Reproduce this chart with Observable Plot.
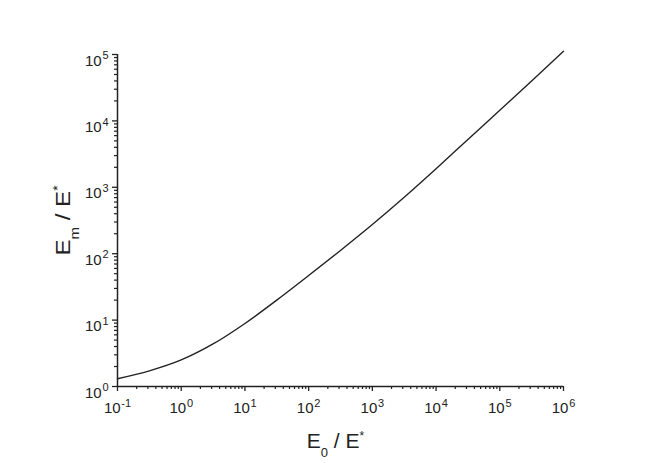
<!DOCTYPE html>
<html><head><meta charset="utf-8">
<script src="https://cdn.jsdelivr.net/npm/d3@7"></script>
<script src="https://cdn.jsdelivr.net/npm/@observablehq/plot@0.6"></script>
<style>
html,body{margin:0;padding:0;background:#fff}
svg{display:block}
</style>
</head><body><div id="chart"></div>
<script>
// Curve values (E0/E* vs Em/E*)
const E0 = [0.1, 0.316, 1, 3.16, 10, 31.6, 100, 316, 1000, 3160, 10000, 31600, 100000, 316000, 1000000];
const Em = [1.31, 1.72, 2.51, 4.37, 8.9, 20, 47, 112, 275, 708, 1905, 5250, 14450, 39800, 112200];

const xMajor = [0.1, 1, 10, 100, 1e3, 1e4, 1e5, 1e6];
const xTickLabels = ["10^-1", "10^0", "10^1", "10^2", "10^3", "10^4", "10^5", "10^6"];
const yMajor = [1, 10, 100, 1e3, 1e4, 1e5];
const yTickLabels = ["10^0", "10^1", "10^2", "10^3", "10^4", "10^5"];
const xTitle = "E_0 / E^*";
const yTitle = "E_m / E^*";

function minorTicks(majors) {
  const out = [];
  for (let i = 0; i < majors.length - 1; i++)
    for (let k = 2; k <= 9; k++) out.push(majors[i] * k);
  return out;
}
const xMinor = minorTicks(xMajor);
const yMinor = minorTicks(yMajor);
const xLab = new Map(xMajor.map((v, i) => [v, xTickLabels[i]]));
const yLab = new Map(yMajor.map((v, i) => [v, yTickLabels[i]]));

const data = E0.map((x, i) => ({E0: x, Em: Em[i]}));
const ink = "#222";

const chart = Plot.plot({
  width: 654, height: 463,
  marginLeft: 117, marginRight: 91, marginTop: 54, marginBottom: 77,
  x: {type: "log", domain: [0.1, 1e6]},
  y: {type: "log", domain: [1, 1e5]},
  style: {fontFamily: "'Liberation Sans', Arial, Helvetica, sans-serif", fontSize: "15px", color: ink, background: "#fff"},
  marks: [
    Plot.axisX(xMinor, {tickSize: 3, tickFormat: () => "", label: null, strokeWidth: 1.2}),
    Plot.axisX(xMajor, {tickSize: 5, tickPadding: 11, tickFormat: d => xLab.get(d), label: null, strokeWidth: 1.3, fontSize: 15}),
    Plot.axisY(yMinor, {tickSize: 3, tickFormat: () => "", label: null, strokeWidth: 1.2}),
    Plot.axisY(yMajor, {tickSize: 5, tickPadding: 4, tickFormat: d => yLab.get(d), label: null, strokeWidth: 1.3, fontSize: 15}),
    Plot.ruleY([1], {stroke: ink, strokeWidth: 1.5}),
    Plot.ruleX([0.1], {stroke: ink, strokeWidth: 1.5}),
    Plot.line(data, {x: "E0", y: "Em", curve: "monotone-x", stroke: ink, strokeWidth: 1.4, clip: false}),
    Plot.text([xTitle], {frameAnchor: "bottom", textAnchor: "middle", dx: -5, dy: 61, fontSize: 21, fill: ink}),
    Plot.text([yTitle], {frameAnchor: "left", textAnchor: "middle", dx: -54, dy: 0, rotate: -90, fontSize: 21, fill: ink})
  ]
});
document.getElementById("chart").append(chart);

const svgNS = "http://www.w3.org/2000/svg";
function sup(textEl, dyBase) {
  const s = textEl.textContent;
  const [base, exp] = s.split("^");
  if (exp === undefined) return;
  textEl.textContent = base;
  textEl.style.fontSize = "15px";
  if (dyBase != null) textEl.setAttribute("dy", dyBase);
  const t = document.createElementNS(svgNS, "tspan");
  t.setAttribute("dy", "-6.5");
  t.setAttribute("dx", "0.8");
  t.style.fontSize = "11px";
  t.textContent = exp;
  textEl.appendChild(t);
}
function title(textEl, stretch) {
  const s = textEl.textContent; // "E_0 / E^*"
  const m = s.match(/^(.*)_(.)(.*)\^(.)$/);
  if (!m) return;
  textEl.textContent = "";
  textEl.setAttribute("dy", "0");
  textEl.setAttribute("text-anchor", "middle");
  textEl.style.fontSize = "21px";
  if (stretch) {
    const tr = textEl.getAttribute("transform") || "";
    textEl.setAttribute("transform", tr + " scale(" + stretch + ",1)");
  }
  const parts = [
    [m[1], null, null],
    [m[2], "13px", "9"],
    [m[3], "21px", "-9"],
    [m[4], "12px", "-8"]
  ];
  for (const [txt, fs, dy] of parts) {
    const t = document.createElementNS(svgNS, "tspan");
    if (fs) t.style.fontSize = fs;
    if (dy) t.setAttribute("dy", dy);
    t.textContent = txt;
    textEl.appendChild(t);
  }
}
chart.querySelectorAll("text").forEach(t => {
  const s = t.textContent;
  if (s.includes("_")) {
    const rotated = (t.getAttribute("transform") || "").includes("rotate");
    title(t, rotated ? 1.15 : null);
  } else if (s.includes("^")) {
    const isY = t.getAttribute("text-anchor") === "end" || (t.parentNode && t.parentNode.getAttribute("text-anchor") === "end");
    sup(t, isY ? "0.42em" : null);
  }
});
</script>
</body></html>
